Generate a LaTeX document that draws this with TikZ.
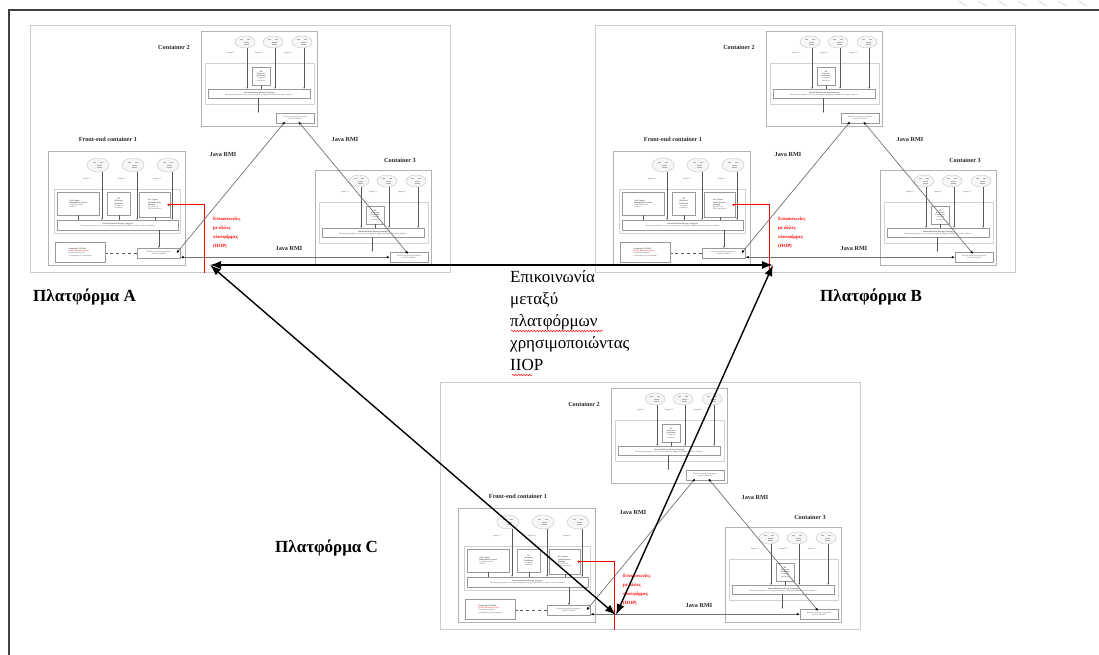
\documentclass[tikz,border=0pt]{standalone}
\usepackage{fontspec}
\setmainfont{Liberation Serif}
\usetikzlibrary{arrows.meta,decorations.pathmorphing,shapes.geometric}
\tikzset{
  panel/.style={draw=gray!40, line width=1.3pt, fill=white},
  cont/.style={draw=gray!60, line width=0.6pt},
  regbox/.style={draw=gray!35, line width=0.5pt},
  sbox/.style={draw=gray!80, line width=0.45pt, fill=white, inner sep=0.6pt, align=center, text=gray!60!black, font=\fontsize{1.9}{2.2}\selectfont},
  agcloud/.style={ellipse, draw=gray!40, line width=0.5pt, fill=gray!7, minimum width=20pt, minimum height=12pt, inner sep=0pt},
  cloudmark/.style={draw=gray!60, line width=0.4pt},
  tinytxt/.style={font=\fontsize{2}{2.2}\selectfont, text=gray!60!black, inner sep=0pt},
  clabel/.style={font=\bfseries\fontsize{6.2}{7}\selectfont, inner sep=0pt, text=black!85},
  redtext/.style={font=\bfseries\fontsize{4.8}{9}\selectfont, text=red, align=left, inner sep=0pt, anchor=north west},
  redline/.style={draw=red, line width=0.55pt},
  vline/.style={draw=gray!70!black, line width=0.4pt},
  smallarrow/.style={-{Latex[length=1.6pt,width=1.3pt]}},
  rmi/.style={draw=black!55, line width=0.7pt, {Latex[length=3.2pt,width=2.6pt,color=black]}-{Latex[length=3.2pt,width=2.6pt,color=black]}},
  iiop/.style={draw=black, line width=1.4pt, {Latex[length=11pt,width=8pt]}-{Latex[length=11pt,width=8pt]}},
  plabel/.style={font=\bfseries\fontsize{17}{20}\selectfont, inner sep=0pt, anchor=west},
  midtext/.style={font=\fontsize{17}{22}\selectfont, inner sep=0pt, align=left, anchor=north west},
  squiggle/.style={draw=red, line width=0.45pt, decorate, decoration={snake, amplitude=0.8pt, segment length=2.8pt}},
  frameline/.style={draw=black!75, line width=1.3pt},
}
\newcommand{\cloudmarks}[2]{%
  \draw[cloudmark] ({#1-5},{#2-3}) -- ({#1-2},{#2-3}) ({#1+2},{#2-3}) -- ({#1+5},{#2-3})
     ({#1-1},{#2}) -- ({#1+4},{#2}) ({#1-1},{#2+2}) -- ({#1+4},{#2+2});}
\newcommand{\simplecontainer}[4]{%
\begin{scope}[shift={(#2,#3)}]
  \node[cont, minimum width=116pt, minimum height=95pt, anchor=north west] (#1box) at (0,0) {};
  \node[regbox, minimum width=109pt, minimum height=41pt, anchor=north west] (#1reg) at (3.5,32) {};
  \node[sbox, minimum width=18pt, minimum height=18pt, anchor=north west] (#1df) at (51,36)
    {\textbf{DF}\\\textbf{(Directory}\\\textbf{Facilitator)}\\Υπηρεσία\\καταλόγου};
  \node[sbox, minimum width=102pt, minimum height=9pt, anchor=north west] (#1tr) at (7,58)
    {\textbf{Internal Platform Message Transport}\\Μεταφορά μηνυμάτων εντός της πλατφόρμας με χρήση Java RMI και τοπικών κλήσεων};
  \node[sbox, minimum width=38pt, minimum height=10pt, anchor=north west] (#1port) at (75,82)
    {Επίπεδο μεταφοράς μηνυμάτων\\μεταξύ containers};
  \foreach \x/\n in {44/1,72/2,101/3}{
    \node[agcloud] (#1ag\n) at (\x,11) {};
    \cloudmarks{\x}{11}
    \node[tinytxt] (#1al\n) at ({\x-14},22) {Agent #4.\n};
    \draw[vline, smallarrow] ([xshift=2pt]#1ag\n.south) -- ([xshift=2pt]#1ag\n.south |- #1tr.north);
  }
  \draw[vline] (#1df.south) -- (#1df.south |- #1tr.north);
  \draw[vline, smallarrow] ([xshift=-1pt]#1tr.south) -- ([xshift=-1pt]#1tr.south |- #1port.north);
\end{scope}}
\newcommand{\platformdiagram}[3]{%
\begin{scope}[shift={(#2,#3)}]
  \node[panel, minimum width=420pt, minimum height=247pt, anchor=north west] (#1panel) at (0,0) {};
  % container 2 and 3
  \node[clabel] (#1c2lab) at (144,22) {Container 2};
  \simplecontainer{#1c2}{171}{6}{2}
  \node[clabel] (#1c3lab) at (370,135) {Container 3};
  \simplecontainer{#1c3}{285}{145}{3}
  % front-end container 1
  \node[clabel] (#1c1lab) at (78,114) {Front-end container 1};
  \node[cont, minimum width=137pt, minimum height=114pt, anchor=north west] (#1c1box) at (18,126) {};
  \node[regbox, minimum width=126pt, minimum height=44pt, anchor=north west] (#1c1reg) at (24,164) {};
  \node[sbox, align=left, minimum width=42pt, minimum height=23pt, anchor=north west] (#1c1ams) at (27,167)
    {\textbf{AMS (Agent}\\\textbf{Management System)}\\Υπηρεσία λευκών\\σελίδων};
  \node[sbox, minimum width=23pt, minimum height=23pt, anchor=north west] (#1c1df) at (77,167)
    {\textbf{DF}\\\textbf{(Directory}\\\textbf{Facilitator)}\\Υπηρεσία\\καταλόγου};
  \node[sbox, align=left, minimum width=31pt, minimum height=25pt, anchor=north west] (#1c1acc) at (109,167)
    {\textbf{ACC (Agent}\\\textbf{Communication}\\\textbf{Channel)}\\Π.χ. IIOP, για\\IIOP επικοινωνίες};
  \node[sbox, minimum width=121pt, minimum height=10pt, anchor=north west] (#1c1tr) at (27,195)
    {\textbf{Internal Platform Message Transport}\\Μεταφορά μηνυμάτων εντός της πλατφόρμας με χρήση Java RMI και τοπικών κλήσεων μεθόδων};
  \node[sbox, align=left, minimum width=50pt, minimum height=20pt, anchor=north west] (#1c1gui) at (25,217)
    {\textbf{Εφαρμογή GUI RMA}\\\textcolor{red}{Remote Monitoring Agent}\\Γραφική διεπαφή για\\τη διαχείριση της πλατφόρμας};
  \node[sbox, minimum width=43pt, minimum height=10pt, anchor=north west] (#1c1port) at (107,223)
    {Επίπεδο μεταφοράς μηνυμάτων\\μεταξύ containers};
  \foreach \x/\n in {68/1,103/2,138/3}{
    \node[agcloud, minimum width=22pt, minimum height=14pt] (#1c1ag\n) at (\x,140) {};
    \cloudmarks{\x}{140}
    \node[tinytxt] (#1c1al\n) at ({\x-11},154) {Agent 1.\n};
    \draw[vline, smallarrow] ([xshift=4pt]#1c1ag\n.south) -- ([xshift=4pt]#1c1ag\n.south |- #1c1tr.north);
  }
  \foreach \b in {ams,df,acc}{
    \draw[vline] (#1c1\b.south) -- (#1c1\b.south |- #1c1tr.north);
  }
  \draw[vline, smallarrow] (#1c1tr.south -| #1c1port.north) -- (#1c1port.north);
  \draw[vline, dashed, smallarrow] (#1c1port.west) -- (#1c1port.west -| #1c1gui.east);
  % IIOP red connection
  \coordinate (#1redend) at (174,248);
  \draw[redline, {Circle[length=2.2pt]}-] ([xshift=-3pt]#1c1acc.east) -| (#1redend);
  \node[redtext] (#1redtxt) at (183,192) {Επικοινωνίες\\με άλλες\\πλατφόρμες\\(IIOP)};
  % Java RMI
  \node[clabel] (#1rmi1) at (193,130) {Java RMI};
  \node[clabel] (#1rmi2) at (259,223) {Java RMI};
  \node[clabel] (#1rmi3) at (315,115) {Java RMI};
  \draw[rmi] ([xshift=-4pt]#1c1port.east) -- ([xshift=-10pt,yshift=2pt]#1c2port.south);
  \draw[rmi] ([xshift=3pt,yshift=2pt]#1c2port.south) -- ([xshift=-1pt,yshift=-2pt]#1c3port.north);
  \draw[rmi] (#1c1port.east |- #1c3port.west) -- (#1c3port.west);
\end{scope}}

\begin{document}
\begin{tikzpicture}[x=1pt,y=-1pt]
\useasboundingbox (0,0) rectangle (1099,655);
\fill[white] (0,0) rectangle (1099,655);
\foreach \x in {958,978,...,1088} \draw[gray!25, line width=0.9pt] (\x,1) -- ({\x+9},6);
\draw[frameline] (9,655) -- (9,10) -- (1099,10);
\platformdiagram{A}{30}{25}
\platformdiagram{B}{595}{25}
\platformdiagram{C}{440}{382}
\node[plabel] (labA) at (33,297) {Πλατφόρμα A};
\node[plabel] (labB) at (820,297) {Πλατφόρμα B};
\node[plabel] (labC) at (275,548) {Πλατφόρμα C};
\node[midtext] (mid) at (510,270) {Επικοινωνία\\μεταξύ\\πλατφόρμων\\χρησιμοποιώντας\\IIOP};
\draw[squiggle] (511,331) -- (603,331);
\draw[squiggle] (512,375) -- (532,375);
\coordinate (iiopA) at (210,265);
\coordinate (iiopB) at (773,265);
\coordinate (iiopC) at (616,615);
\draw[iiop] (iiopA) -- (iiopB);
\draw[iiop] (iiopA) -- (iiopC);
\draw[iiop] (iiopB) -- (iiopC);
\end{tikzpicture}
\end{document}
